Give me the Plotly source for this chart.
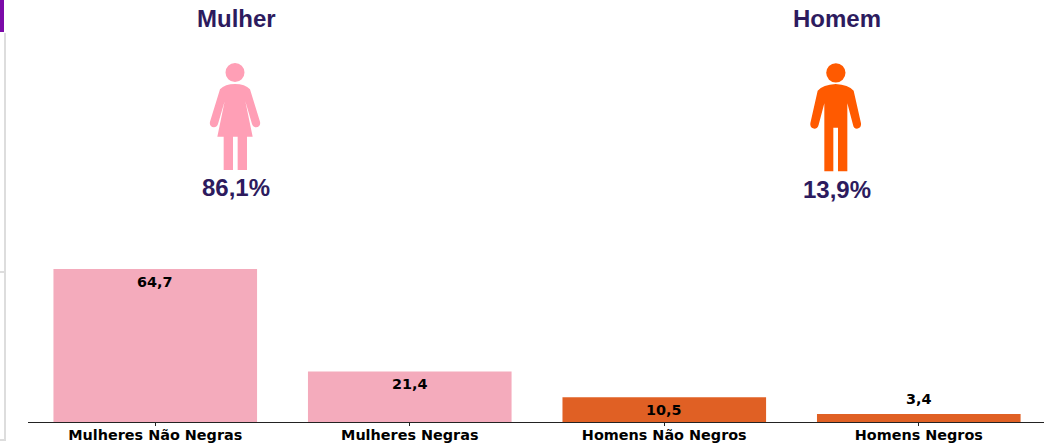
import plotly.graph_objects as go

categories = ["Mulheres Não Negras", "Mulheres Negras", "Homens Não Negros", "Homens Negros"]
values = [64.7, 21.4, 10.5, 3.4]
value_labels = ["64,7", "21,4", "10,5", "3,4"]
bar_colors = ["#f4abbc", "#f4abbc", "#e06024", "#e06024"]

W, H = 1044, 443
L, B = 28, 21
PW, PH = W - L, H - B
DARK = "#2d1b5e"
PINK = "#ff9fb6"
ORANGE = "#ff5a00"


def px(x):
    return (x - L) / PW


def py(y):
    return (H - B - y) / PH


def pth(cmds, ox, scale=3.0):
    out = []
    for c in cmds:
        if c == "Z":
            out.append("Z")
        else:
            letter = c[0]
            coords = c[1:]
            parts = []
            for zx, zy in coords:
                parts.append(f"{px(ox + zx / scale):.5f},{py(zy / scale):.5f}")
            out.append(letter + " ".join(parts))
    return " ".join(out)


woman = [
    ("M", (195, 252)), ("Q", (225, 252), (240, 268)), ("L", (270, 365)),
    ("Q", (273, 380), (258, 382)), ("Q", (250, 382), (246, 372)), ("L", (226, 304)),
    ("L", (248, 410)), ("L", (231, 410)), ("L", (231, 510)), ("L", (203, 510)), ("L", (203, 410)),
    ("L", (189, 410)), ("L", (189, 510)), ("L", (161, 510)), ("L", (161, 410)), ("L", (142, 410)),
    ("L", (164, 304)), ("L", (144, 372)), ("Q", (140, 382), (132, 382)),
    ("Q", (117, 380), (120, 365)), ("L", (150, 268)), ("Q", (165, 252), (195, 252)), "Z",
]
man = [
    ("M", (197, 252)), ("Q", (235, 254), (251, 272)), ("L", (273, 370)),
    ("Q", (275, 385), (261, 386)), ("Q", (251, 386), (249, 374)), ("L", (232, 310)),
    ("L", (232, 514)), ("L", (204, 514)), ("L", (204, 383)), ("L", (190, 383)), ("L", (190, 514)),
    ("L", (163, 514)), ("L", (163, 310)), ("L", (146, 374)), ("Q", (143, 386), (133, 386)),
    ("Q", (119, 385), (121, 370)), ("L", (143, 272)), ("Q", (159, 254), (197, 252)), "Z",
]

shapes = [
    dict(type="path", xref="paper", yref="paper", path=pth(woman, 170), fillcolor=PINK, line_width=0),
    dict(type="circle", xref="paper", yref="paper", x0=px(225.5), x1=px(244.5), y0=py(82), y1=py(63),
         fillcolor=PINK, line_width=0),
    dict(type="path", xref="paper", yref="paper", path=pth(man, 770), fillcolor=ORANGE, line_width=0),
    dict(type="circle", xref="paper", yref="paper", x0=px(826.2), x1=px(845.5), y0=py(82.5), y1=py(63.2),
         fillcolor=ORANGE, line_width=0),
    # page chrome at the left edge
    dict(type="rect", xref="paper", yref="paper", x0=px(0), x1=px(4), y0=py(32), y1=py(0),
         fillcolor="#7b0aa8", line_width=0),
    dict(type="rect", xref="paper", yref="paper", x0=px(4), x1=px(6), y0=py(441), y1=py(33),
         fillcolor="#dddddd", line_width=0),
    dict(type="rect", xref="paper", yref="paper", x0=px(0), x1=px(4), y0=py(273), y1=py(271),
         fillcolor="#dddddd", line_width=0),
    dict(type="rect", xref="paper", yref="paper", x0=px(0), x1=px(4), y0=py(441), y1=py(439),
         fillcolor="#dddddd", line_width=0),
]

annotations = [
    dict(text=t, x=px(x), y=py(y), xref="paper", yref="paper", showarrow=False,
         xanchor="center", yanchor="middle",
         font=dict(family="Liberation Sans", size=s, color=DARK))
    for t, x, y, s in [
        ("<b>Mulher</b>", 236, 19, 24),
        ("<b>Homem</b>", 836.5, 19, 24),
        ("<b>86,1%</b>", 235.5, 187, 24),
        ("<b>13,9%</b>", 836.5, 189, 24),
    ]
]
annotations += [
    dict(text=t, x=c, y=v, xref="x", yref="y", showarrow=False, xanchor="center", yanchor="middle",
         yshift=-13 if v > 5 else 15,
         font=dict(family="DejaVu Sans", size=14.4, color="#000000", weight="bold"))
    for c, v, t in zip(categories, values, value_labels)
]

fig = go.Figure(
    go.Bar(
        x=categories,
        y=values,
        width=0.8,
        marker=dict(color=bar_colors, line_width=0),
        hoverinfo="skip",
    )
)
fig.update_layout(
    width=W,
    height=H,
    margin=dict(l=L, r=0, t=0, b=B, autoexpand=False),
    paper_bgcolor="#ffffff",
    plot_bgcolor="#ffffff",
    showlegend=False,
    shapes=shapes,
    annotations=annotations,
    xaxis=dict(
        type="category",
        range=[-0.5, 3.492],
        showgrid=False,
        showline=True,
        linecolor="#222222",
        linewidth=1,
        ticks="outside",
        ticklen=3,
        tickcolor="#222222",
        tickangle=0,
        ticklabelstandoff=-3,
        tickfont=dict(family="DejaVu Sans", size=14.4, color="#000000", weight="bold"),
    ),
    yaxis=dict(range=[0, 178.4], visible=False),
)
fig.write_html(
    "out.html",
    config=dict(displayModeBar=False),
    post_script="document.body.style.margin='0';document.documentElement.style.overflow='hidden';",
)
